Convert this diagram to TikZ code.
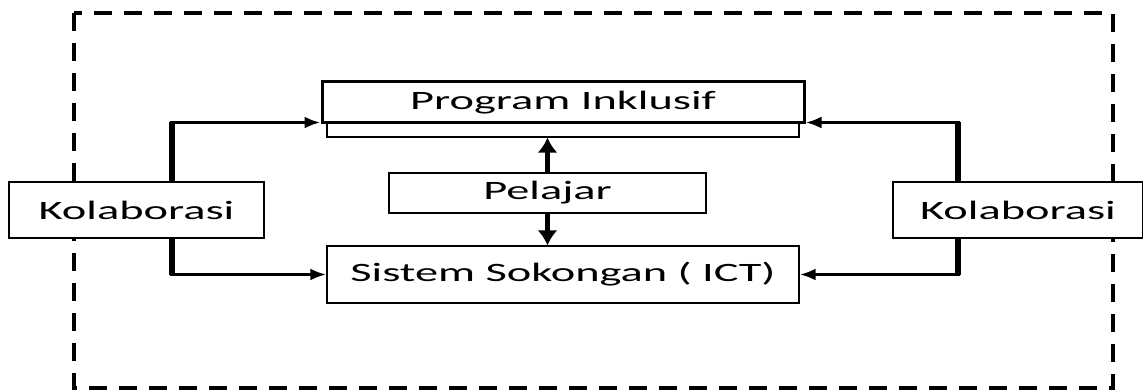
\documentclass[tikz,border=0pt]{standalone}
\usepackage{fontspec}
\setmainfont{Carlito}[FakeStretch=1.75]
\usepackage{tikz}
\usetikzlibrary{arrows.meta}

\tikzset{
  box/.style={draw,rectangle,inner sep=0pt,line width=1.2pt,fill=white,
    font=\fontsize{26.5}{28}\selectfont},
  flow/.style={line width=3.5pt,-{Latex[length=16pt,width=12pt]}},
  riser/.style={line width=6.5pt},
  link/.style={line width=5pt,-{Latex[length=15pt,width=20pt]}},
}

\begin{document}
\begin{tikzpicture}[x=1pt,y=-1pt]
    \useasboundingbox (0,0) rectangle (1143,390);
    % dashed frame
    \draw[line width=4pt,dash pattern=on 18pt off 12pt] (74,13) rectangle (1113,388);
    \coordinate (lx) at (172,0);
    \coordinate (rx) at (958,0);
    \node[box,minimum width=472pt,minimum height=14pt] (base) at (563,130) {};
    \node[box,line width=3pt,minimum width=482pt,minimum height=41pt] (prog) at (563,102.5) {Program Inklusif};
    \node[box,minimum width=317pt,minimum height=40pt] (pel) at (547.5,193) {Pelajar};
    \node[box,minimum width=472pt,minimum height=57pt] (sis) at (563,274.5) {Sistem Sokongan ( ICT)};
    \node[box,minimum width=255pt,minimum height=56pt] (kolL) at (136.5,210) {Kolaborasi};
    \node[box,minimum width=250pt,minimum height=56pt] (kolR) at (1018,210) {Kolaborasi};
    % connectors
    \draw[flow] (kolL.north -| lx) |- ([yshift=2pt]prog.south west);
    \draw[flow] (kolL.south -| lx) |- (sis.west);
    \draw[flow] (kolR.north -| rx) |- ([yshift=2pt]prog.south east);
    \draw[flow] (kolR.south -| rx) |- (sis.east);
    \draw[riser] (kolL.north -| lx) -- ([yshift=2pt]prog.south west -| lx);
    \draw[riser] (kolL.south -| lx) -- (sis.west -| lx);
    \draw[riser] (kolR.north -| rx) -- ([yshift=2pt]prog.south east -| rx);
    \draw[riser] (kolR.south -| rx) -- (sis.east -| rx);
    \draw[link] (pel.north) -- (base.south -| pel.north);
    \draw[link] (pel.south) -- (sis.north -| pel.south);
\end{tikzpicture}
\end{document}
